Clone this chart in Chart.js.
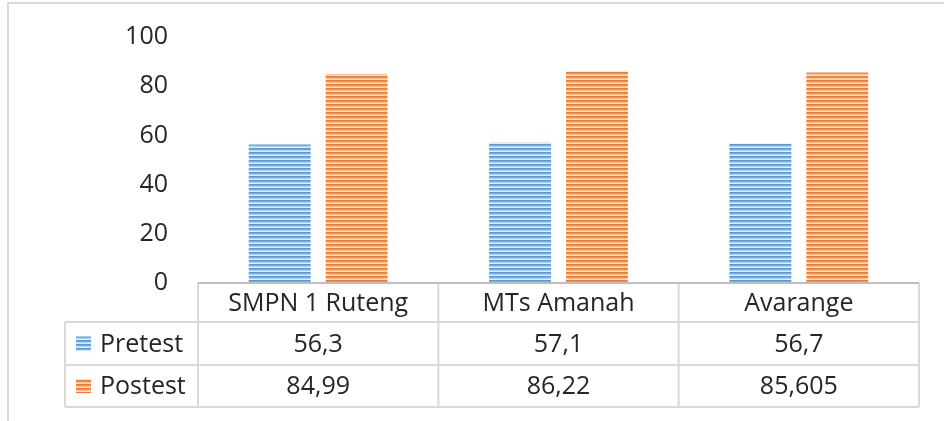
<!DOCTYPE html>
<html>
<head>
<meta charset="utf-8">
<script src="https://cdn.jsdelivr.net/npm/chart.js@4"></script>
<style>
  html, body { margin: 0; padding: 0; background: #fff; }
  #wrap { position: relative; width: 944px; height: 421px; overflow: hidden; }
  #frame { position: absolute; left: 7px; top: 2px; width: 1000px; height: 500px;
           border-left: 2px solid #d9d9d9; border-top: 2px solid #d9d9d9; box-sizing: border-box; }
  canvas { position: absolute; left: 0; top: 0; }
</style>
</head>
<body>
<div id="wrap">
  <div id="frame"></div>
  <canvas id="c" width="944" height="421"></canvas>
</div>
<script>
const categories = ["SMPN 1 Ruteng", "MTs Amanah", "Avarange"];
const seriesNames = ["Pretest", "Postest"];
const pretest = [56.3, 57.1, 56.7];
const postest = [84.99, 86.22, 85.605];
const yTicks = [0, 20, 40, 60, 80, 100];

function stripes(colors) {
  const p = document.createElement('canvas');
  p.width = 4; p.height = colors.length;
  const g = p.getContext('2d');
  colors.forEach((c, i) => { g.fillStyle = c; g.fillRect(0, i, 4, 1); });
  return document.getElementById('c').getContext('2d').createPattern(p, 'repeat');
}
const bluePat = stripes(['#5B9BD5', '#75AADB', '#B4D1EC', '#E2EDF8']);
const orangePat = stripes(['#ED7D31', '#F08F4D', '#F6C09B', '#FCE5D5']);
const pats = [bluePat, orangePat];

const FONT = '"Open Sans", "Liberation Sans", sans-serif';
const FS = 25;
const fmt = v => String(v).replace('.', ',');

const tablePlugin = {
  id: 'dataTable',
  afterDraw(chart) {
    const ctx = chart.ctx;
    const xs = chart.scales.x;
    const area = chart.chartArea;
    const n = categories.length;
    const colW = (xs.right - xs.left) / n;
    const top = area.bottom;
    const rows = [top, top + 39, top + 82, top + 124];
    const leftX = 65;
    ctx.save();
    ctx.strokeStyle = '#d9d9d9';
    ctx.lineWidth = 2;
    ctx.beginPath();
    for (let r = 1; r < rows.length; r++) {
      ctx.moveTo(leftX, rows[r]); ctx.lineTo(xs.right, rows[r]);
    }
    ctx.moveTo(leftX, rows[1]); ctx.lineTo(leftX, rows[3]);
    for (let i = 0; i <= n; i++) {
      const x = xs.left + i * colW;
      ctx.moveTo(x, rows[0]); ctx.lineTo(x, rows[3]);
    }
    ctx.stroke();
    ctx.strokeStyle = '#bfbfbf';
    ctx.lineWidth = 2;
    ctx.beginPath();
    ctx.moveTo(xs.left, rows[0]); ctx.lineTo(xs.right, rows[0]);
    ctx.stroke();

    ctx.fillStyle = '#262626';
    ctx.font = FS + 'px ' + FONT;
    ctx.textAlign = 'center';
    ctx.textBaseline = 'middle';
    categories.forEach((c, i) => {
      const cx = xs.getPixelForValue(i);
      ctx.fillText(c, cx, (rows[0] + rows[1]) / 2 + 1);
      ctx.fillText(fmt(pretest[i]), cx, (rows[1] + rows[2]) / 2 + 1);
      ctx.fillText(fmt(postest[i]), cx, (rows[2] + rows[3]) / 2 + 1);
    });
    ctx.textAlign = 'left';
    seriesNames.forEach((s, k) => {
      const cy = (rows[k + 1] + rows[k + 2]) / 2;
      ctx.fillStyle = pats[k];
      ctx.fillRect(76, cy - 7, 15, 14);
      ctx.fillStyle = '#262626';
      ctx.fillText(s, 100, cy + 1);
    });
    ctx.restore();
  }
};

new Chart(document.getElementById('c'), {
  type: 'bar',
  data: {
    labels: categories,
    datasets: [
      { label: seriesNames[0], data: pretest, backgroundColor: bluePat, borderWidth: 0 },
      { label: seriesNames[1], data: postest, backgroundColor: orangePat, borderWidth: 0 }
    ]
  },
  options: {
    responsive: false,
    animation: false,
    devicePixelRatio: 1,
    layout: { padding: { left: 0, right: 25, top: 37, bottom: 138 } },
    datasets: { bar: { categoryPercentage: 0.64, barPercentage: 0.805 } },
    plugins: { legend: { display: false }, tooltip: { enabled: false } },
    scales: {
      x: { display: false },
      y: {
        min: 0, max: 100,
        afterFit(s) { s.width = 198; s.paddingTop = 0; s.paddingBottom = 0; },
        afterBuildTicks(s) { s.ticks = yTicks.map(v => ({ value: v })); },
        grid: { display: false, drawTicks: false },
        border: { display: false },
        ticks: { padding: 30, color: '#262626', font: { family: FONT, size: FS } }
      }
    }
  },
  plugins: [tablePlugin]
});
</script>
</body>
</html>
